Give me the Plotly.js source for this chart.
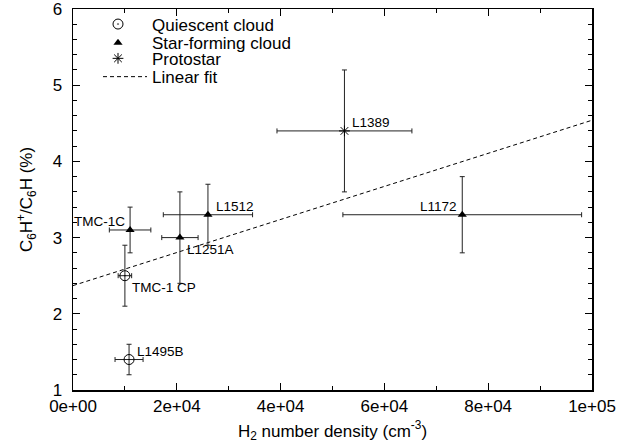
<!DOCTYPE html>
<html>
<head>
<meta charset="utf-8">
<script src="https://cdn.plot.ly/plotly-3.0.1.min.js"></script>
<style>html,body{margin:0;padding:0;background:#fff;}#chart{width:631px;height:446px;}</style>
</head>
<body>
<div id="chart"></div>
<script>
// Quiescent clouds
const quiescentNames = ["TMC-1 CP", "L1495B"];
const quiescentX = [1.0e4, 1.08e4];
const quiescentY = [2.5, 1.4];
const quiescentXErr = [1.3e3, 2.7e3];
const quiescentYErr = [0.4, 0.2];
const quiescentLabelPos = ["br", "tr"];

// Star-forming clouds
const starNames = ["TMC-1C", "L1251A", "L1512", "L1172"];
const starX = [1.1e4, 2.06e4, 2.6e4, 7.5e4];
const starY = [3.1, 3.0, 3.3, 3.3];
const starXErr = [4.0e3, 3.5e3, 8.6e3, 2.3e4];
const starYErr = [0.3, 0.6, 0.4, 0.5];
const starLabelPos = ["tl", "br", "tr", "tl"];

// Protostar
const protoNames = ["L1389"];
const protoX = [5.23e4];
const protoY = [4.4];
const protoXErr = [1.3e4];
const protoYErr = [0.8];
const protoLabelPos = ["tr"];

// Linear fit (end points)
const fitX = [0, 1e5];
const fitY = [2.37, 4.54];

// Tick labels
const xTickVals = [0, 2e4, 4e4, 6e4, 8e4, 1e5];
const xTickText = ["0e+00", "2e+04", "4e+04", "6e+04", "8e+04", "1e+05"];
const yTickVals = [1, 2, 3, 4, 5, 6];
const yTickText = ["1", "2", "3", "4", "5", "6"];

const FONT = "Liberation Sans, Arial, Helvetica, sans-serif";

function errBar(arr) { return {type: "data", symmetric: true, array: arr, color: "#222", thickness: 1, width: 2.5}; }

const traces = [
  {
    type: "scatter", mode: "lines", x: fitX, y: fitY, name: "Linear fit",
    line: {color: "#000", width: 1, dash: "4px,3px"}, legend: "legend4", hoverinfo: "skip"
  },
  {
    type: "scatter", mode: "markers", x: quiescentX, y: quiescentY, name: "Quiescent cloud",
    error_x: errBar(quiescentXErr), error_y: errBar(quiescentYErr),
    marker: {symbol: "circle-open-dot", size: 10, color: "#000", line: {width: 1, color: "#000"}},
    legend: "legend"
  },
  {
    type: "scatter", mode: "markers", x: starX, y: starY, name: "Star-forming cloud",
    error_x: errBar(starXErr), error_y: errBar(starYErr),
    marker: {symbol: "triangle-up", size: 8, color: "#000", line: {width: 0}},
    legend: "legend2"
  },
  {
    type: "scatter", mode: "markers", x: protoX, y: protoY, name: "Protostar",
    error_x: errBar(protoXErr), error_y: errBar(protoYErr),
    marker: {symbol: "asterisk-open", size: 9, color: "#000", line: {width: 1, color: "#000"}},
    legend: "legend3"
  }
];

const posStyle = {
  tl: {xanchor: "right", xshift: -3, yshift: 8},
  tr: {xanchor: "left", xshift: 6, yshift: 8},
  br: {xanchor: "left", xshift: 5, yshift: -12}
};

const annotations = [];
function addLabels(names, xs, ys, pos) {
  names.forEach((n, i) => {
    const s = posStyle[pos[i]];
    annotations.push({
      x: xs[i], y: ys[i], xref: "x", yref: "y", text: n, showarrow: false,
      xanchor: s.xanchor, yanchor: "middle", xshift: s.xshift, yshift: s.yshift,
      font: {family: FONT, size: 13.5, color: "#000"}
    });
  });
}
addLabels(quiescentNames, quiescentX, quiescentY, quiescentLabelPos);
addLabels(starNames, starX, starY, starLabelPos);
addLabels(protoNames, protoX, protoY, protoLabelPos);

const plotTop = 8, plotBottom = 390, plotLeft = 73, plotRight = 592;
function py(px) { return (plotBottom - px) / (plotBottom - plotTop); }
function pxr(px) { return (px - plotLeft) / (plotRight - plotLeft); }

function legendAt(xpx, ypx, iw) {
  return {
    x: pxr(xpx), y: py(ypx), xanchor: "left", yanchor: "top",
    bgcolor: "rgba(0,0,0,0)", borderwidth: 0, itemwidth: iw,
    font: {family: FONT, size: 17, color: "#000"}, itemclick: false, itemdoubleclick: false
  };
}

const layout = {
  width: 631, height: 446,
  margin: {l: plotLeft, r: 631 - plotRight, t: plotTop, b: 446 - plotBottom},
  paper_bgcolor: "#fff", plot_bgcolor: "#fff",
  font: {family: FONT, size: 17, color: "#000"},
  showlegend: true,
  legend: legendAt(84, 6.5, 58),
  legend2: legendAt(84, 25.2, 58),
  legend3: legendAt(84, 40.8, 58),
  legend4: legendAt(98, 59.1, 44),
  xaxis: {
    range: [0, 1e5], showgrid: false, zeroline: false,
    showline: true, linecolor: "#000", linewidth: 1.5, mirror: "allticks",
    ticks: "inside", ticklen: 7, tickwidth: 1, tickcolor: "#000",
    tickvals: xTickVals, ticktext: xTickText, ticklabeloverflow: "allow",
    minor: {ticks: "inside", dtick: 1e4, tick0: 0, ticklen: 4, tickcolor: "#000", showgrid: false},
    tickfont: {family: FONT, size: 17, color: "#000"},
    title: {text: "H<sub>2</sub> number density (cm<sup>-3</sup>)", font: {family: FONT, size: 17, color: "#000"}, standoff: 9.5}
  },
  yaxis: {
    range: [1, 6], showgrid: false, zeroline: false,
    showline: true, linecolor: "#000", linewidth: 1.5, mirror: "allticks",
    ticks: "inside", ticklen: 7, tickwidth: 1, tickcolor: "#000",
    tickvals: yTickVals, ticktext: yTickText, ticklabeloverflow: "allow", ticklabelstandoff: 6,
    minor: {ticks: "inside", dtick: 0.2, tick0: 1, ticklen: 4, tickcolor: "#000", showgrid: false},
    tickfont: {family: FONT, size: 17, color: "#000"},
    title: {text: "C<sub>6</sub>H<sup>+</sup>/C<sub>6</sub>H (%)", font: {family: FONT, size: 17, color: "#000"}, standoff: 15}
  },
  annotations: annotations
};

Plotly.newPlot("chart", traces, layout, {displayModeBar: false, staticPlot: true});
</script>
</body>
</html>
